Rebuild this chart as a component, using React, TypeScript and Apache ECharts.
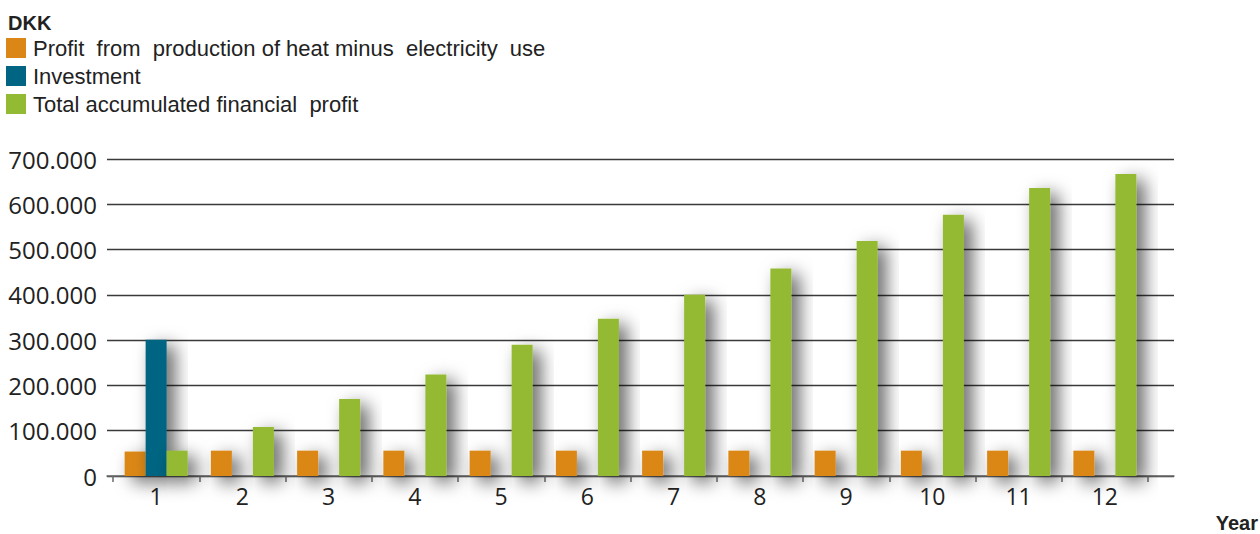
import React, { useEffect, useRef } from "react";
import * as echarts from "echarts";

const years = ["1", "2", "3", "4", "5", "6", "7", "8", "9", "10", "11", "12"];
const profitProduction = [54000, 56000, 56000, 56000, 56000, 56000, 56000, 56000, 56000, 56000, 56000, 56000];
const investment = [301000, null, null, null, null, null, null, null, null, null, null, null];
const accumulated = [56000, 108000, 170000, 224000, 290000, 347000, 400000, 458000, 519000, 577000, 636000, 667000];
const seriesNames = [
  "Profit  from  production of heat minus  electricity  use",
  "Investment",
  "Total accumulated financial  profit",
];
const colors = ["#DA8718", "#006582", "#93BA33"];

export default function App() {
  const ref = useRef<HTMLDivElement>(null);
  useEffect(() => {
    const chart = echarts.init(ref.current!, null, { renderer: "svg" });
    const shadow = {
      shadowColor: "rgba(0,0,0,0.62)",
      shadowBlur: 18,
      shadowOffsetX: 8,
      shadowOffsetY: 6,
    };
    const mk = (name: string, data: any[], color: string) => ({
      name,
      type: "bar",
      xAxisIndex: 1,
      yAxisIndex: 1,
      data,
      barWidth: 21,
      barGap: "0%",
      itemStyle: { color, ...shadow },
    });
    chart.setOption({
      animation: false,
      backgroundColor: "#fff",
      title: {
        text: "DKK",
        left: 8,
        top: 13,
        padding: 0,
        textStyle: { fontFamily: "Liberation Sans, Arial", fontSize: 20, fontWeight: "bold", color: "#222" },
      },
      legend: {
        orient: "vertical",
        left: 6,
        top: 37,
        padding: 0,
        itemWidth: 20,
        itemHeight: 20,
        itemGap: 6,
        icon: "rect",
        selectedMode: false,
        textStyle: {
          fontFamily: "Liberation Sans, Arial",
          fontSize: 22,
          lineHeight: 20,
          color: "#222",
          padding: [0, 0, 0, 2],
        },
        data: seriesNames,
      },
      graphic: [
        {
          type: "text",
          right: 2,
          top: 513,
          style: { text: "Year", font: "bold 20px 'Liberation Sans', Arial", fill: "#222" },
        },
      ],
      grid: [
        { left: 107, right: 86, top: 159, bottom: 58 },
        { left: 113, right: 112, top: 159, bottom: 58 },
      ],
      xAxis: [
        {
          gridIndex: 0,
          type: "value",
          min: 0,
          max: 1,
          axisLine: { show: true, onZero: true, lineStyle: { color: "#6a6a6a", width: 1.5 } },
          axisTick: { show: false },
          axisLabel: { show: false },
          splitLine: { show: false },
        },
        {
          gridIndex: 1,
          type: "category",
          data: years,
          axisLine: { show: false },
          axisTick: { show: true, length: 6, lineStyle: { color: "#6a6a6a", width: 1.5 } },
          axisLabel: { fontFamily: "Open Sans", fontSize: 23, color: "#222", margin: 8 },
        },
      ],
      yAxis: [
        {
          gridIndex: 0,
          type: "value",
          min: 0,
          max: 700000,
          interval: 100000,
          axisLine: { show: false },
          axisTick: { show: false },
          axisLabel: {
            fontFamily: "Open Sans",
            fontSize: 24,
            color: "#222",
            margin: 10,
            formatter: (v: number) => (v === 0 ? "0" : v / 1000 + ".000"),
          },
          splitLine: { show: true, lineStyle: { color: "#3a3a3a", width: 1.3 } },
        },
        {
          gridIndex: 1,
          type: "value",
          min: 0,
          max: 700000,
          interval: 100000,
          show: false,
          splitLine: { show: false },
        },
      ],
      series: [
        mk(seriesNames[0], profitProduction, colors[0]),
        mk(seriesNames[1], investment, colors[1]),
        mk(seriesNames[2], accumulated, colors[2]),
      ],
    });
    return () => chart.dispose();
  }, []);
  return <div ref={ref} style={{ position: "fixed", left: 0, top: 0, width: 1260, height: 534 }} />;
}
